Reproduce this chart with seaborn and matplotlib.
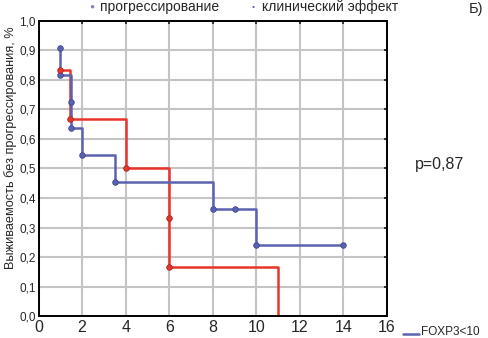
import pandas as pd
import matplotlib
matplotlib.use("Agg")
import matplotlib.pyplot as plt
from matplotlib.ticker import FuncFormatter
import seaborn as sns

sns.set_style("whitegrid")
plt.rcParams["font.family"] = ["Liberation Sans", "DejaVu Sans"]

# FOXP3<10 (blue)
blue_t = [1, 1, 1.5, 1.5, 2, 3.5, 8, 9, 10, 14]
blue_s = [0.909, 0.818, 0.727, 0.636, 0.545, 0.4545, 0.364, 0.364, 0.242, 0.242]
# second group (red)
red_t = [1, 1.45, 4, 6, 6, 11]
red_s = [0.833, 0.667, 0.5, 0.333, 0.167, 0.0]

x_ticks = [0, 2, 4, 6, 8, 10, 12, 14, 16]
y_ticks = [0.0, 0.1, 0.2, 0.3, 0.4, 0.5, 0.6, 0.7, 0.8, 0.9, 1.0]

blue = "#5b63b0"
red = "#e8352b"

blue_df = pd.DataFrame({"t": blue_t, "s": blue_s})
red_df = pd.DataFrame({"t": red_t, "s": red_s})

fig = plt.figure(figsize=(4.88, 3.38), dpi=100)
ax = fig.add_axes([0.079, 0.065, 0.714, 0.873])

sns.lineplot(data=red_df, x="t", y="s", ax=ax, color=red, lw=1.8,
             drawstyle="steps-post", sort=False, estimator=None)
sns.lineplot(data=blue_df, x="t", y="s", ax=ax, color=blue, lw=1.8,
             drawstyle="steps-post", sort=False, estimator=None)
sns.scatterplot(data=blue_df, x="t", y="s", ax=ax, color=blue, s=16,
                edgecolor="#3f4590", linewidth=0.6, zorder=5)
sns.scatterplot(data=red_df.iloc[:-1], x="t", y="s", ax=ax, color=red, s=16,
                edgecolor="#b02520", linewidth=0.6, zorder=5)

ax.set_xlim(0, 16)
ax.set_ylim(0, 1.0)
ax.set_xticks(x_ticks)
ax.set_yticks(y_ticks)
ax.yaxis.set_major_formatter(FuncFormatter(lambda v, p: f"{v:.1f}".replace(".", ",")))
ax.tick_params(axis="x", labelsize=11.5, bottom=False, top=True, direction="in",
               length=2.5, width=1.3, pad=3)
ax.tick_params(axis="y", labelsize=8.5, left=False, right=True, direction="in",
               length=2.5, width=1.3, pad=2)
ax.set_xlabel("")
ax.set_ylabel("Выживаемость без прогрессирования, %", fontsize=9.2)
ax.yaxis.set_label_coords(-0.062, 0.57)
ax.grid(True, color="#c4c4c4", lw=1.5)
for sp in ax.spines.values():
    sp.set_color("black")
    sp.set_linewidth(1.4)

# legend-like header
fig.text(92 / 488, 1 - 7 / 338, "●", color="#7d83c2", fontsize=6, ha="center", va="center")
fig.text(100 / 488, 1 - 7 / 338, "прогрессирование", fontsize=10, va="center")
fig.text(253 / 488, 1 - 8 / 338, "•", color=blue, fontsize=6, ha="center", va="center")
fig.text(262 / 488, 1 - 7 / 338, "клинический эффект", fontsize=10, va="center")
fig.text(469 / 488, 1 - 9 / 338, "Б)", fontsize=10.5, va="center")
fig.text(415 / 488, 1 - 164 / 338, "p=0,87", fontsize=11.5, va="center")
fig.lines.append(plt.Line2D([403 / 488, 419 / 488], [1 - 334 / 338, 1 - 334 / 338],
                            transform=fig.transFigure, color=blue, lw=1.8))
fig.text(421 / 488, 1 - 332 / 338, "FOXP3<10", fontsize=8.5, va="center")

fig.savefig("out.png", dpi=100)
